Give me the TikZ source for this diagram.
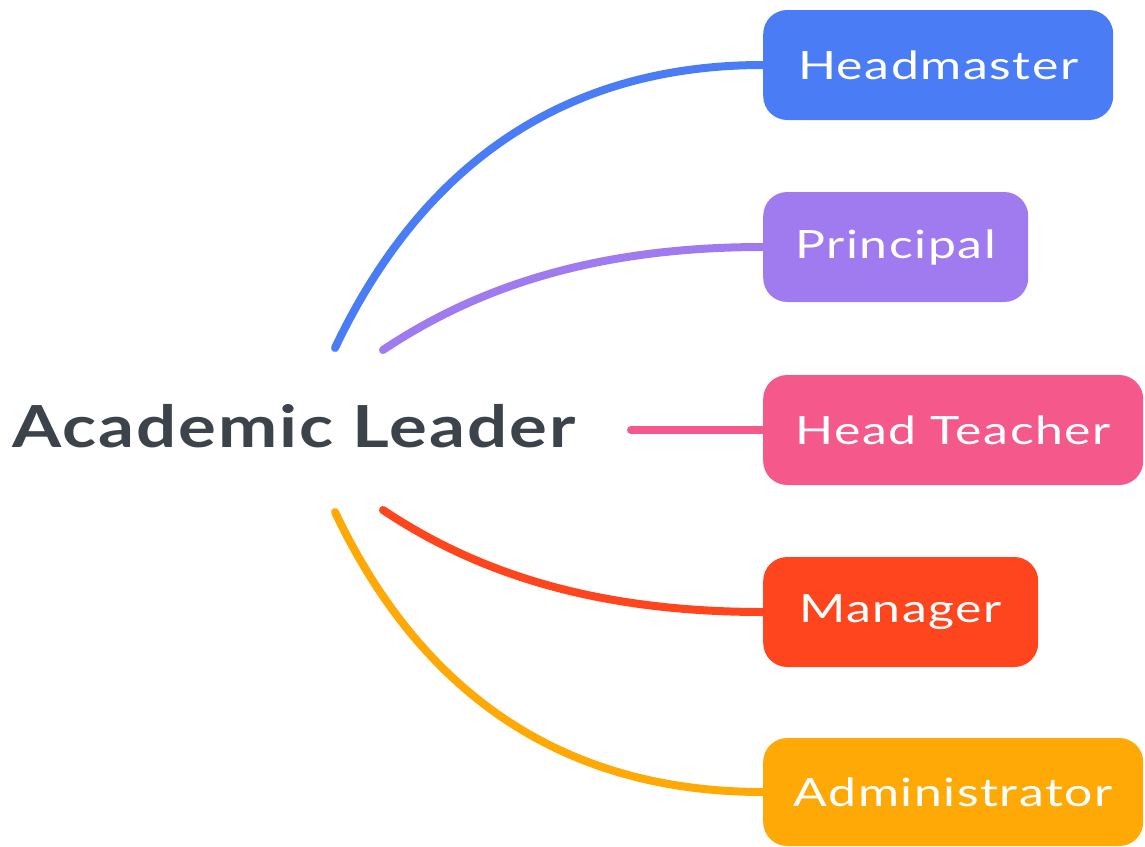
\documentclass[tikz,border=0pt]{standalone}
\usepackage{fontspec}
\setmainfont{Lato}[FakeStretch=1.28, LetterSpace=4]
\newfontfamily\titlefont{Lato Bold}[FakeStretch=1.22, LetterSpace=3.4]
\definecolor{cblue}{HTML}{4A7CF6}
\definecolor{cpurple}{HTML}{A07BF0}
\definecolor{cpink}{HTML}{F5588B}
\definecolor{cred}{HTML}{FF451D}
\definecolor{corange}{HTML}{FFA906}
\definecolor{ctitle}{HTML}{3C434B}
\tikzset{
  leaf/.style={fill=#1, rounded corners=24pt, minimum height=110pt, text=white,
    font=\fontsize{39}{40}\selectfont, inner sep=0pt, anchor=west},
  branch/.style={draw=#1, line width=8pt, line cap=round},
}
\begin{document}
\begin{tikzpicture}[x=1pt,y=-1pt]
\useasboundingbox (0,0) rectangle (1145,846);
\clip (0,0) rectangle (1145,846);
\node[anchor=base west, text=ctitle, inner sep=0pt, font=\titlefont\fontsize{58}{60}\selectfont] (title) at (12,447) {Academic Leader};
\node[leaf=cblue, minimum width=350pt] (hm) at (763,65) {Headmaster};
\node[leaf=cpurple, minimum width=265pt] (pr) at (763,247) {Principal};
\node[leaf=cpink, minimum width=380pt] (ht) at (763,430) {Head Teacher};
\node[leaf=cred, minimum width=275pt] (mg) at (763,612) {Manager};
\node[leaf=corange, minimum width=380pt, minimum height=108pt] (ad) at (763,792) {Administrator};
\coordinate (b1) at (335,348);
\coordinate (p1) at (383,350);
\coordinate (h1) at (631,430);
\coordinate (m1) at (383,510);
\coordinate (a1) at (335,512);
\draw[branch=cblue] (b1) .. controls (410,190) and (540,65) .. (hm.west);
\draw[branch=cpurple] (p1) .. controls (480,285) and (600,247) .. (pr.west);
\draw[branch=cpink] (h1) -- (ht.west);
\draw[branch=cred] (m1) .. controls (480,575) and (600,612) .. (mg.west);
\draw[branch=corange] (a1) .. controls (410,670) and (540,792) .. (ad.west);
\end{tikzpicture}
\end{document}
